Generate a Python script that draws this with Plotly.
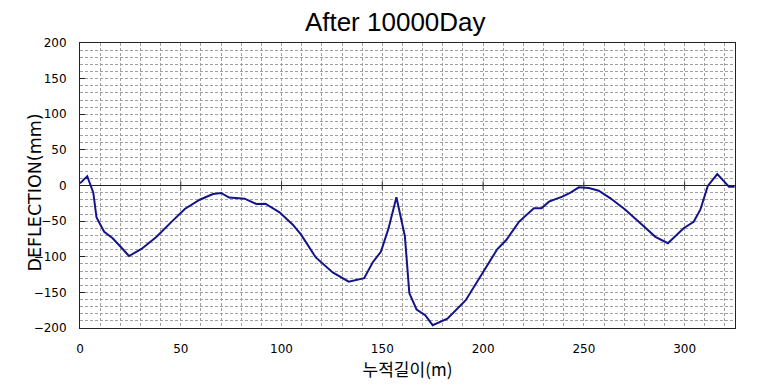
import plotly.graph_objects as go

distance = [0, 3.6, 6.6, 8.2, 12, 16.2, 20.5, 24.3, 30.5, 38, 45.4, 52, 59.4, 66, 70, 74,
            81.7, 87.5, 92, 99, 105.6, 109.7, 117, 125.4, 133.3, 141, 145.2, 149.3, 153.1,
            157, 161.2, 163.4, 167, 171.3, 175, 182.3, 191.4, 198.8, 203, 207, 211.5, 217.8,
            225.2, 229, 232.7, 239.3, 243.4, 247.5, 252.5, 257.4, 263.2, 270.6, 278.9, 285.5,
            291.7, 299.5, 304.5, 307.8, 311.5, 316.2, 319.8, 322, 324.8]
deflection = [3, 13, -10, -45, -65, -74, -87, -99, -89, -72, -51, -33, -20, -12, -10.5, -17,
              -18.5, -26, -25.5, -37.6, -55, -69, -101, -122, -135, -130, -108, -93, -60,
              -16.6, -71, -151, -174, -182, -196, -187, -161, -127, -108, -89.6, -76.5, -51,
              -32, -32, -22.7, -15.7, -10, -2.6, -3.5, -7.3, -18, -34, -55, -72,
              -81, -60, -51, -34, -0.7, 16, 5, -1.7, -1.7]

x_ticks = [0, 50, 100, 150, 200, 250, 300]
y_ticks = [-200, -150, -100, -50, 0, 50, 100, 150, 200]

title_text = "After 10000Day"
x_title = "누적길이(m)"
y_title = "DEFLECTION(mm)"

font_title = "Liberation Sans, Arial, sans-serif"
font_tick = "DejaVu Sans, sans-serif"
font_kr = "Noto Sans CJK KR, sans-serif"

grid_color = "#a0a0a0"

fig = go.Figure()
fig.add_trace(go.Scatter(x=distance, y=deflection, mode="lines",
                         line=dict(color="#14148a", width=2), showlegend=False,
                         hoverinfo="skip"))
# small tick marks on the zero line at the x tick positions
fig.add_trace(go.Scatter(x=x_ticks[1:], y=[0] * (len(x_ticks) - 1), mode="markers",
                         marker=dict(symbol="line-ns", size=6,
                                     line=dict(color="#333333", width=1)),
                         showlegend=False, hoverinfo="skip"))

fig.add_annotation(text=y_title, textangle=-90, xref="paper", yref="paper",
                   x=0, y=0.5, xanchor="center", yanchor="middle", xshift=-46, yshift=-7,
                   showarrow=False, font=dict(family=font_tick, size=17.5, color="black"))

fig.update_layout(
    width=776, height=388,
    margin=dict(l=72, r=49, t=35, b=68),
    paper_bgcolor="white", plot_bgcolor="white",
    title=dict(text=title_text, x=0.499, xref="container", xanchor="center",
               y=0.964, yref="container", yanchor="middle", automargin=False,
               font=dict(family=font_title, size=26, color="black")),
    xaxis=dict(range=[0, 325], tickvals=x_ticks, ticks="", showline=True,
               linecolor="#222222", linewidth=1, mirror=True, automargin=False,
               zeroline=False, ticklabelstandoff=10,
               tickfont=dict(family=font_tick, size=12, color="black"),
               title=dict(text=x_title, font=dict(family=font_kr, size=17, color="black"),
                          standoff=2),
               showgrid=True, gridcolor=grid_color, gridwidth=1, griddash="3px,2px",
               minor=dict(dtick=10, tick0=0, showgrid=True, gridcolor=grid_color,
                          griddash="3px,2px", gridwidth=1)),
    yaxis=dict(range=[-200, 200], tickvals=y_ticks, ticks="inside", ticklen=5,
               tickcolor="#222222", showline=True, linecolor="#222222", linewidth=1,
               mirror=True, automargin=False, ticklabelstandoff=10,
               zeroline=True, zerolinecolor="#222222", zerolinewidth=1,
               tickfont=dict(family=font_tick, size=12, color="black"),
               showgrid=True, gridcolor=grid_color, gridwidth=1, griddash="3px,2px",
               minor=dict(dtick=10, tick0=0, showgrid=True, gridcolor=grid_color,
                          griddash="3px,2px", gridwidth=1)),
)

fig.write_html("out.html")
